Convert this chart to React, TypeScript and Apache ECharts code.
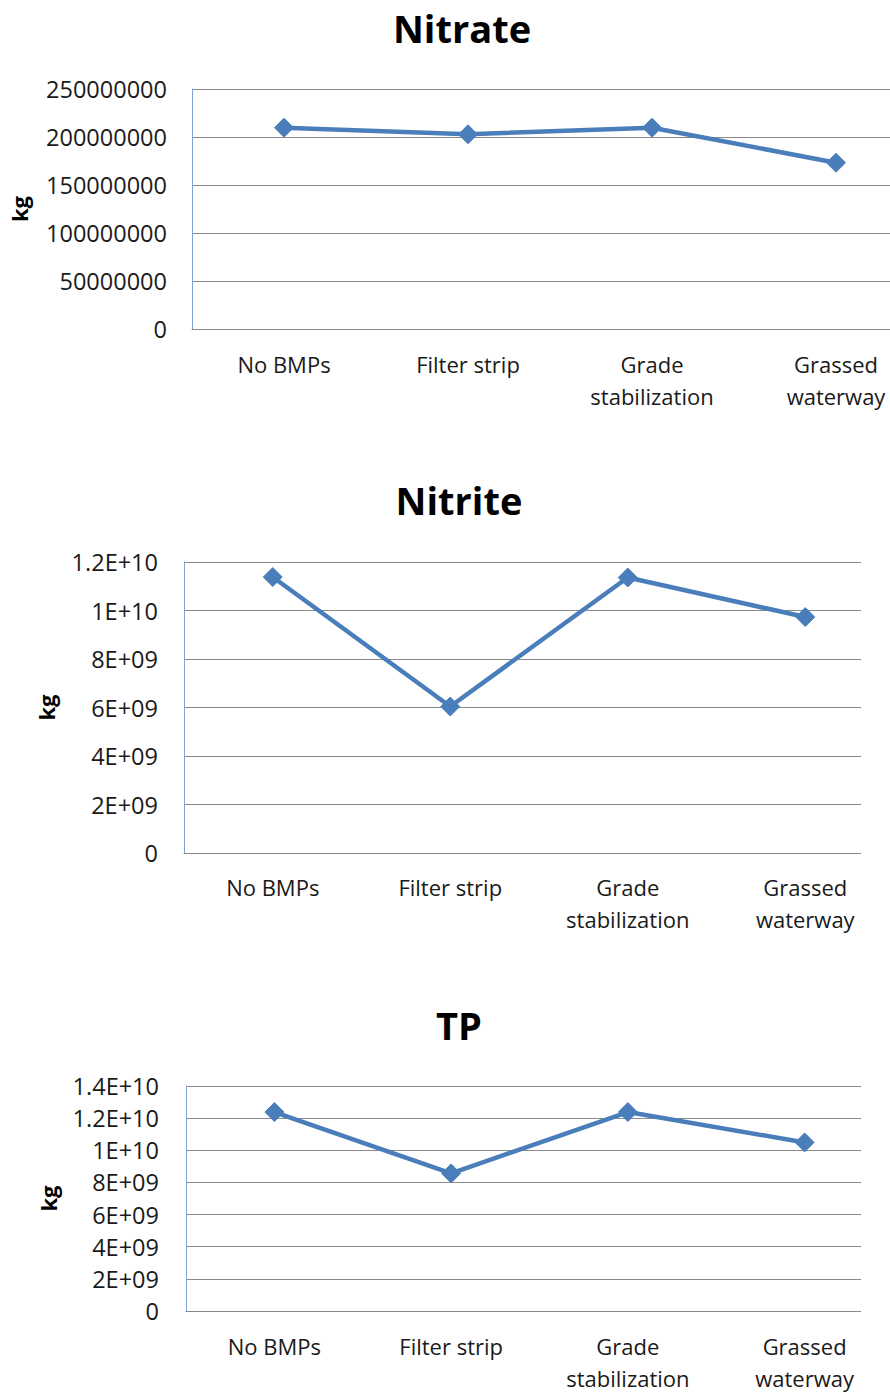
import React, { useEffect, useRef } from "react";
import * as echarts from "echarts";

// Scenario categories shared by every panel
const categories = ["No BMPs", "Filter strip", "Grade\nstabilization", "Grassed\nwaterway"];

// Loads per scenario, in kg
const nitrateValues = [209.7e6, 202.8e6, 209.7e6, 173.2e6];
const nitriteValues = [11.38e9, 6.04e9, 11.36e9, 9.73e9];
const tpValues = [12.38e9, 8.56e9, 12.38e9, 10.49e9];

// Y axis ranges
const nitrateAxis = { max: 250000000, interval: 50000000 };
const nitriteAxis = { max: 1.2e10, interval: 2e9 };
const tpAxis = { max: 1.4e10, interval: 2e9 };

const FONT = "'Open Sans', 'Noto Sans', sans-serif";
const LINE_COLOR = "#4A7EBB";
const GRID_COLOR = "#8a8a8a";

// Spreadsheet-style scientific notation: 1.2E+10, 8E+09
function sci(v: number): string {
  if (v === 0) return "0";
  const e = Math.floor(Math.log10(v) + 1e-9);
  const m = +(v / Math.pow(10, e)).toFixed(2);
  return `${m}E+${String(e).padStart(2, "0")}`;
}

type PanelProps = {
  title: string;
  values: number[];
  axis: { max: number; interval: number };
  plain: boolean;
  // visible window and the (wider) chart canvas behind it
  box: { top: number; width: number; height: number; canvasWidth: number };
  grid: { left: number; top: number; width: number; height: number };
  titleX: number;
  titleY: number;
  nameGap: number;
  labelMargin: number;
  tickMargin: number;
};

function Panel(p: PanelProps) {
  const ref = useRef<HTMLDivElement>(null);
  useEffect(() => {
    if (!ref.current) return;
    const chart = echarts.init(ref.current, undefined, { renderer: "svg" });
    chart.setOption({
      animation: false,
      backgroundColor: "#ffffff",
      title: {
        text: p.title,
        left: p.titleX - 5,
        top: p.titleY - 5,
        textAlign: "center",
        textVerticalAlign: "middle",
        textStyle: { fontFamily: FONT, fontWeight: "bold", fontSize: 38, color: "#000" },
      },
      grid: { left: p.grid.left, top: p.grid.top, width: p.grid.width, height: p.grid.height, containLabel: false },
      xAxis: {
        type: "category",
        data: categories,
        boundaryGap: true,
        axisLine: { lineStyle: { color: GRID_COLOR, width: 1 } },
        axisTick: { show: false },
        axisLabel: {
          interval: 0,
          margin: p.labelMargin,
          fontFamily: FONT,
          fontSize: 22,
          lineHeight: 32,
          color: "#1a1a1a",
        },
      },
      yAxis: {
        type: "value",
        min: 0,
        max: p.axis.max,
        interval: p.axis.interval,
        name: "kg",
        nameLocation: "middle",
        nameGap: p.nameGap,
        nameTextStyle: { fontFamily: FONT, fontWeight: "bold", fontSize: 22, color: "#000" },
        axisLine: { show: true, lineStyle: { color: "#7fa3d3", width: 1 } },
        axisTick: { show: false },
        splitLine: { show: true, lineStyle: { color: GRID_COLOR, width: 1 } },
        axisLabel: {
          margin: p.tickMargin,
          fontFamily: FONT,
          fontSize: 23.5,
          color: "#1a1a1a",
          formatter: (v: number) => (p.plain ? String(Math.round(v)) : sci(v)),
        },
      },
      series: [
        {
          type: "line",
          data: p.values,
          symbol: "diamond",
          symbolSize: 19,
          lineStyle: { color: LINE_COLOR, width: 4.5 },
          itemStyle: { color: LINE_COLOR, borderColor: LINE_COLOR },
          z: 3,
        },
      ],
    });
    return () => chart.dispose();
  }, []);
  return (
    <div
      style={{
        position: "absolute",
        left: 0,
        top: p.box.top,
        width: p.box.width,
        height: p.box.height,
        overflow: "hidden",
      }}
    >
      <div ref={ref} style={{ position: "absolute", left: 0, top: 0, width: p.box.canvasWidth, height: p.box.height }} />
    </div>
  );
}

export default function App() {
  return (
    <div style={{ position: "absolute", left: 0, top: 0, width: 890, height: 1394, background: "#fff", overflow: "hidden" }}>
      <Panel
        title="Nitrate"
        values={nitrateValues}
        axis={nitrateAxis}
        plain={true}
        box={{ top: 0, width: 890, height: 450, canvasWidth: 960 }}
        grid={{ left: 191, top: 89, width: 737, height: 240 }}
        titleX={462}
        titleY={28}
        nameGap={162}
        labelMargin={19}
        tickMargin={25}
      />
      <Panel
        title="Nitrite"
        values={nitriteValues}
        axis={nitriteAxis}
        plain={false}
        box={{ top: 460, width: 861, height: 500, canvasWidth: 920 }}
        grid={{ left: 184, top: 102, width: 710, height: 291 }}
        titleX={459}
        titleY={40}
        nameGap={127}
        labelMargin={18}
        tickMargin={26}
      />
      <Panel
        title="TP"
        values={tpValues}
        axis={tpAxis}
        plain={false}
        box={{ top: 980, width: 861, height: 414, canvasWidth: 920 }}
        grid={{ left: 186, top: 106, width: 707, height: 230 }}
        titleX={459}
        titleY={45}
        nameGap={127}
        labelMargin={19}
        tickMargin={27}
      />
    </div>
  );
}
